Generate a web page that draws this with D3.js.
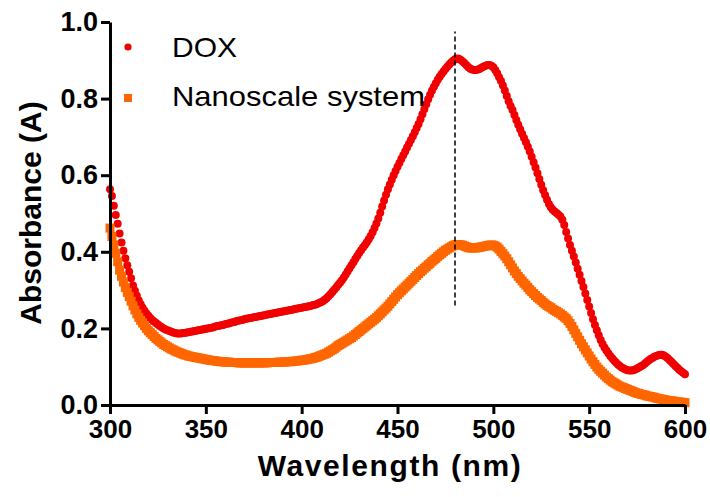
<!DOCTYPE html>
<html>
<head>
<meta charset="utf-8">
<script src="https://d3js.org/d3.v7.min.js"></script>
<style>
  body { margin: 0; background: #fff; }
  svg { display: block; font-family: "Liberation Sans", Arial, sans-serif; }
</style>
</head>
<body>
<div id="chart"></div>
<script>
// wavelength grid, 1 nm steps
var wavelengths = d3.range(300, 601);

// DOX absorbance, 300..600 nm
var doxValues = [
  0.563, 0.546, 0.520, 0.496, 0.473, 0.448, 0.424, 0.403, 0.383, 0.365,
  0.348, 0.331, 0.312, 0.298, 0.285, 0.273, 0.263, 0.254, 0.246, 0.239,
  0.233, 0.227, 0.222, 0.218, 0.214, 0.210, 0.206, 0.203, 0.200, 0.197,
  0.195, 0.193, 0.191, 0.189, 0.188, 0.187, 0.187, 0.187, 0.188, 0.188,
  0.189, 0.190, 0.191, 0.192, 0.193, 0.194, 0.195, 0.196, 0.197, 0.198,
  0.199, 0.200, 0.201, 0.202, 0.203, 0.205, 0.206, 0.207, 0.208, 0.209,
  0.211, 0.212, 0.213, 0.215, 0.216, 0.217, 0.219, 0.220, 0.221, 0.222,
  0.224, 0.225, 0.226, 0.227, 0.228, 0.229, 0.230, 0.231, 0.232, 0.233,
  0.234, 0.235, 0.236, 0.237, 0.238, 0.239, 0.240, 0.241, 0.242, 0.243,
  0.244, 0.245, 0.246, 0.247, 0.248, 0.249, 0.250, 0.251, 0.252, 0.253,
  0.254, 0.255, 0.256, 0.257, 0.258, 0.259, 0.261, 0.262, 0.264, 0.266,
  0.268, 0.271, 0.275, 0.279, 0.284, 0.289, 0.295, 0.301, 0.307, 0.313,
  0.319, 0.326, 0.333, 0.341, 0.349, 0.357, 0.365, 0.373, 0.381, 0.389,
  0.397, 0.404, 0.411, 0.418, 0.425, 0.433, 0.441, 0.451, 0.462, 0.474,
  0.487, 0.502, 0.518, 0.534, 0.549, 0.563, 0.576, 0.588, 0.600, 0.611,
  0.622, 0.632, 0.642, 0.652, 0.662, 0.672, 0.682, 0.692, 0.702, 0.712,
  0.723, 0.734, 0.746, 0.759, 0.772, 0.785, 0.798, 0.810, 0.821, 0.831,
  0.840, 0.849, 0.857, 0.864, 0.871, 0.877, 0.883, 0.889, 0.894, 0.899,
  0.903, 0.905, 0.904, 0.901, 0.897, 0.892, 0.887, 0.882, 0.878, 0.876,
  0.875, 0.875, 0.876, 0.878, 0.881, 0.884, 0.886, 0.888, 0.888, 0.886,
  0.882, 0.875, 0.866, 0.856, 0.846, 0.834, 0.821, 0.807, 0.793, 0.781,
  0.770, 0.757, 0.744, 0.732, 0.720, 0.708, 0.697, 0.686, 0.674, 0.662,
  0.648, 0.634, 0.620, 0.605, 0.590, 0.575, 0.561, 0.548, 0.536, 0.525,
  0.516, 0.510, 0.505, 0.501, 0.497, 0.492, 0.484, 0.470, 0.452, 0.435,
  0.418, 0.403, 0.388, 0.372, 0.356, 0.340, 0.324, 0.308, 0.291, 0.274,
  0.257, 0.240, 0.224, 0.209, 0.195, 0.182, 0.170, 0.159, 0.150, 0.142,
  0.135, 0.128, 0.122, 0.116, 0.111, 0.106, 0.102, 0.098, 0.095, 0.093,
  0.091, 0.090, 0.090, 0.091, 0.093, 0.095, 0.098, 0.101, 0.104, 0.108,
  0.112, 0.116, 0.120, 0.123, 0.126, 0.128, 0.130, 0.131, 0.131, 0.129,
  0.126, 0.122, 0.117, 0.112, 0.107, 0.102, 0.097, 0.092, 0.088, 0.084,
  0.080
];

// Nanoscale system absorbance, 300..600 nm
var nanoValues = [
  0.462, 0.440, 0.418, 0.396, 0.374, 0.352, 0.336, 0.321, 0.307, 0.294,
  0.283, 0.271, 0.259, 0.248, 0.238, 0.229, 0.221, 0.214, 0.207, 0.200,
  0.194, 0.189, 0.184, 0.179, 0.174, 0.170, 0.166, 0.162, 0.158, 0.155,
  0.152, 0.149, 0.146, 0.144, 0.141, 0.139, 0.137, 0.135, 0.133, 0.131,
  0.130, 0.128, 0.127, 0.126, 0.125, 0.124, 0.123, 0.122, 0.121, 0.120,
  0.119, 0.118, 0.117, 0.116, 0.116, 0.115, 0.114, 0.114, 0.113, 0.113,
  0.112, 0.112, 0.112, 0.111, 0.111, 0.111, 0.111, 0.110, 0.110, 0.110,
  0.110, 0.110, 0.110, 0.110, 0.110, 0.110, 0.110, 0.110, 0.110, 0.110,
  0.110, 0.110, 0.110, 0.111, 0.111, 0.111, 0.111, 0.111, 0.112, 0.112,
  0.112, 0.112, 0.113, 0.113, 0.113, 0.114, 0.114, 0.115, 0.115, 0.116,
  0.117, 0.117, 0.118, 0.119, 0.120, 0.121, 0.122, 0.124, 0.125, 0.127,
  0.129, 0.131, 0.133, 0.135, 0.138, 0.141, 0.144, 0.147, 0.151, 0.155,
  0.158, 0.161, 0.164, 0.167, 0.170, 0.173, 0.176, 0.180, 0.184, 0.188,
  0.192, 0.196, 0.200, 0.204, 0.208, 0.212, 0.216, 0.220, 0.224, 0.228,
  0.233, 0.238, 0.243, 0.248, 0.253, 0.258, 0.264, 0.270, 0.276, 0.282,
  0.288, 0.293, 0.298, 0.303, 0.308, 0.313, 0.318, 0.323, 0.328, 0.333,
  0.338, 0.343, 0.348, 0.352, 0.357, 0.361, 0.366, 0.370, 0.375, 0.379,
  0.383, 0.388, 0.392, 0.396, 0.400, 0.404, 0.407, 0.410, 0.413, 0.416,
  0.418, 0.419, 0.419, 0.418, 0.417, 0.415, 0.413, 0.411, 0.410, 0.410,
  0.410, 0.410, 0.411, 0.412, 0.413, 0.414, 0.415, 0.416, 0.417, 0.418,
  0.417, 0.415, 0.412, 0.407, 0.401, 0.395, 0.389, 0.382, 0.374, 0.366,
  0.358, 0.350, 0.343, 0.336, 0.330, 0.324, 0.318, 0.313, 0.307, 0.301,
  0.296, 0.291, 0.286, 0.281, 0.277, 0.273, 0.268, 0.264, 0.260, 0.257,
  0.254, 0.250, 0.247, 0.244, 0.241, 0.238, 0.234, 0.230, 0.226, 0.220,
  0.213, 0.205, 0.196, 0.187, 0.178, 0.169, 0.160, 0.152, 0.144, 0.136,
  0.128, 0.120, 0.113, 0.106, 0.099, 0.093, 0.088, 0.083, 0.078, 0.073,
  0.069, 0.065, 0.061, 0.058, 0.055, 0.052, 0.049, 0.047, 0.045, 0.043,
  0.041, 0.039, 0.037, 0.035, 0.033, 0.031, 0.030, 0.028, 0.027, 0.026,
  0.024, 0.023, 0.022, 0.021, 0.020, 0.018, 0.017, 0.016, 0.015, 0.014,
  0.013, 0.012, 0.011, 0.011, 0.010, 0.009, 0.008, 0.008, 0.007, 0.007,
  0.006
];

var xTicks = [300, 350, 400, 450, 500, 550, 600];
var yTicks = [0.0, 0.2, 0.4, 0.6, 0.8, 1.0];
var seriesNames = ["DOX", "Nanoscale system"];
var peakWavelength = 480;
var peakLine = [0.26, 0.975];

var width = 710;
var height = 497;
var margin = { left: 110, right: 25, top: 22, bottom: 92 };

var red = "#f00000";
var orange = "#ff6600";

var svg = d3.select("#chart").append("svg")
    .attr("width", width)
    .attr("height", height);

var x = d3.scaleLinear().domain([300, 600]).range([margin.left, width - margin.right]);
var y = d3.scaleLinear().domain([0, 1]).range([height - margin.bottom, margin.top]);

var dox = wavelengths.map(function (w, i) { return { w: w, a: doxValues[i] }; });
var nano = wavelengths.map(function (w, i) { return { w: w, a: nanoValues[i] }; });

// DOX as dots
svg.append("g").selectAll("circle")
    .data(dox)
    .join("circle")
    .attr("cx", d => x(d.w))
    .attr("cy", d => y(d.a))
    .attr("r", 4)
    .attr("fill", red);

// nanoscale system as squares
var sq = 9;
svg.append("g").selectAll("rect")
    .data(nano)
    .join("rect")
    .attr("x", d => x(d.w) - sq / 2)
    .attr("y", d => y(d.a) - sq / 2)
    .attr("width", sq)
    .attr("height", sq)
    .attr("fill", orange);

// dashed line at the peak
svg.append("line")
    .attr("x1", x(peakWavelength))
    .attr("x2", x(peakWavelength))
    .attr("y1", y(peakLine[0]))
    .attr("y2", y(peakLine[1]))
    .attr("stroke", "#000")
    .attr("stroke-width", 1.5)
    .attr("stroke-dasharray", "5,3");

// axes
var xAxis = svg.append("g")
    .attr("transform", "translate(0," + y(0) + ")")
    .call(d3.axisBottom(x).tickValues(xTicks).tickSize(9).tickSizeOuter(0).tickPadding(6));
var yAxis = svg.append("g")
    .attr("transform", "translate(" + x(300) + ",0)")
    .call(d3.axisLeft(y).tickValues(yTicks).tickFormat(d3.format(".1f")).tickSize(9).tickSizeOuter(0).tickPadding(3));

[xAxis, yAxis].forEach(function (ax) {
    ax.select(".domain").attr("stroke", "#000").attr("stroke-width", 3);
    ax.selectAll(".tick line").attr("stroke", "#000").attr("stroke-width", 3);
    ax.selectAll(".tick text")
        .attr("fill", "#000")
        .style("font-family", "'Liberation Sans', Arial, sans-serif")
        .style("font-weight", "bold")
        .style("font-size", "26px");
});
yAxis.selectAll(".tick text").style("font-size", "27px");

// axis titles
svg.append("text")
    .attr("x", 390)
    .attr("y", 476)
    .attr("text-anchor", "middle")
    .style("font-weight", "bold")
    .style("font-size", "30px")
    .style("letter-spacing", "1.6px")
    .text("Wavelength (nm)");

svg.append("text")
    .attr("transform", "translate(41," + 213 + ") rotate(-90)")
    .attr("text-anchor", "middle")
    .style("font-weight", "bold")
    .style("font-size", "30px")
    .text("Absorbance (A)");

// legend
var legend = svg.append("g");
legend.append("circle").attr("cx", 128).attr("cy", 47).attr("r", 3.6).attr("fill", red);
legend.append("rect").attr("x", 124).attr("y", 94).attr("width", 8).attr("height", 8).attr("fill", orange);
legend.append("text").attr("x", 172).attr("y", 57).style("font-size", "28px")
    .attr("textLength", 65).attr("lengthAdjust", "spacingAndGlyphs").text(seriesNames[0]);
legend.append("text").attr("x", 172).attr("y", 106).style("font-size", "28px")
    .attr("textLength", 253).attr("lengthAdjust", "spacingAndGlyphs").text(seriesNames[1]);
</script>
</body>
</html>
